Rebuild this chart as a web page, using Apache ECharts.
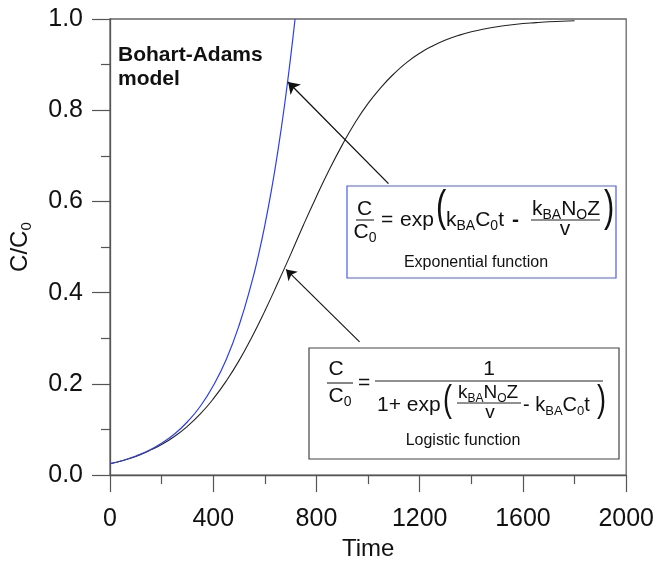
<!DOCTYPE html>
<html lang="en">
<head>
    <meta charset="UTF-8">
    <title>Bohart-Adams model</title>
    <script type="text/javascript" src="https://cdn.jsdelivr.net/npm/echarts/dist/echarts.min.js"></script>
    <style>
        html, body {
            margin: 0;
            padding: 0;
            background-color: #fff;
        }
        #chart {
            width: 657px;
            height: 566px;
        }
    </style>
</head>
<body>
<div id="chart"></div>
<script>
    // values
    var timeExp = [0, 50, 100, 150, 200, 250, 300, 350, 400, 450, 500, 550, 575, 600, 625, 650, 675, 700, 717];
    var ratioExp = [0.025, 0.032, 0.042, 0.054, 0.070, 0.090, 0.117, 0.151, 0.196, 0.253, 0.328, 0.424, 0.482, 0.548, 0.623, 0.709, 0.806, 0.917, 1.0];

    var timeLog = [0, 50, 100, 150, 200, 250, 300, 350, 400, 450, 500, 550, 600, 650, 700, 750, 800, 850, 900,
        950, 1000, 1050, 1100, 1150, 1200, 1250, 1300, 1350, 1400, 1450, 1500, 1550, 1600, 1650, 1700, 1750, 1800];
    var ratioLog = [0.025, 0.032, 0.041, 0.053, 0.067, 0.085, 0.107, 0.134, 0.167, 0.206, 0.251, 0.303, 0.360, 0.421, 0.484, 0.549, 0.611, 0.670, 0.724,
        0.773, 0.815, 0.850, 0.880, 0.905, 0.925, 0.941, 0.954, 0.964, 0.972, 0.978, 0.983, 0.987, 0.990, 0.992, 0.994, 0.995, 0.996];

    var xTicks = [0, 400, 800, 1200, 1600, 2000];
    var yTicks = [0.0, 0.2, 0.4, 0.6, 0.8, 1.0];

    var FONT = '"Liberation Sans", Arial, sans-serif';

    function pairs(xs, ys) {
        var out = [];
        for (var i = 0; i < xs.length; i++) {
            out.push([xs[i], ys[i]]);
        }
        return out;
    }

    // rich text styles for formulas (main text + subscript)
    function richStyle(size, sub) {
        return {
            n: {fontSize: size, fontFamily: FONT, fill: '#111', lineHeight: size + 5},
            s: {fontSize: sub, fontFamily: FONT, fill: '#111', lineHeight: sub, verticalAlign: 'bottom'}
        };
    }

    function txt(x, y, text, size, opt) {
        opt = opt || {};
        return {
            type: 'text',
            x: x,
            y: y,
            z: 100,
            scaleX: opt.scaleX || 1,
            style: {
                text: text,
                fontSize: size,
                fontFamily: FONT,
                fontWeight: opt.bold ? 'bold' : 'normal',
                fill: '#111',
                align: opt.align || 'left',
                verticalAlign: opt.valign || 'middle',
                lineHeight: opt.lineHeight,
                rich: opt.rich
            }
        };
    }

    function bar(x1, x2, y) {
        return {
            type: 'line',
            z: 100,
            shape: {x1: x1, y1: y, x2: x2, y2: y},
            style: {stroke: '#222', lineWidth: 1.1}
        };
    }

    function box(x, y, w, h, color) {
        return {
            type: 'rect',
            z: 99,
            shape: {x: x, y: y, width: w, height: h},
            style: {fill: '#fff', stroke: color, lineWidth: 1.2}
        };
    }

    var rich21 = richStyle(21, 14);
    var rich19 = richStyle(19, 12);

    var graphics = [
        txt(118, 43, 'Bohart-Adams\nmodel', 21, {bold: true, valign: 'top', lineHeight: 24}),

        // exponential function box
        box(347, 186, 269, 92, '#4a5cf0'),
        txt(364.5, 209.5, 'C', 21, {align: 'center'}),
        bar(356, 374, 220),
        txt(365, 232, '{n|C}{s|0}', 21, {align: 'center', rich: rich21}),
        txt(381, 220, '=', 21),
        txt(400, 220, 'exp', 21),
        txt(436, 209, '(', 44, {scaleX: 0.7}),
        txt(446, 220, '{n|k}{s|BA}{n|C}{s|0}{n|t}', 21, {rich: rich21}),
        txt(512, 220, '-', 21, {bold: true}),
        txt(532, 209, '{n|k}{s|BA}{n|N}{s|O}{n|Z}', 21, {rich: rich21}),
        bar(531, 600, 220),
        txt(565, 229, 'v', 21, {align: 'center'}),
        txt(604, 209, ')', 44, {scaleX: 0.7}),
        txt(476, 263, 'Exponential function', 16, {align: 'center'}),

        // logistic function box
        box(309, 348, 310, 111, '#444'),
        txt(336, 369, 'C', 21, {align: 'center'}),
        bar(327, 353, 383),
        txt(340, 396, '{n|C}{s|0}', 21, {align: 'center', rich: rich21}),
        txt(358, 383, '=', 21),
        txt(489, 369, '1', 21, {align: 'center'}),
        bar(375, 603, 381),
        txt(377, 405, '1+ exp', 21),
        txt(443, 401, '(', 36, {scaleX: 0.75}),
        txt(458, 393, '{n|k}{s|BA}{n|N}{s|O}{n|Z}', 19, {rich: rich19}),
        bar(457, 521, 403),
        txt(490, 413, 'v', 19, {align: 'center'}),
        txt(523, 405, '{n|- k}{s|BA}{n|C}{s|0}{n|t}', 20, {rich: richStyle(20, 13)}),
        txt(597, 401, ')', 36, {scaleX: 0.75}),
        txt(463, 441, 'Logistic function', 16, {align: 'center'})
    ];

    var myChart = echarts.init(document.getElementById('chart'), null, {renderer: 'canvas'});

    var option = {
        animation: false,
        backgroundColor: '#fff',
        grid: {
            left: 108,
            right: 30,
            top: 19,
            bottom: 84,
            show: true,
            borderColor: '#666',
            borderWidth: 1.3
        },
        xAxis: {
            type: 'value',
            min: xTicks[0],
            max: xTicks[xTicks.length - 1],
            interval: xTicks[1] - xTicks[0],
            name: 'Time',
            nameLocation: 'middle',
            nameGap: 57,
            nameTextStyle: {fontSize: 24, fontFamily: FONT, color: '#111'},
            axisLine: {onZero: false, lineStyle: {color: '#555', width: 1.3}},
            axisTick: {inside: false, length: 17, lineStyle: {color: '#555', width: 1.2}},
            minorTick: {show: true, splitNumber: 2, length: 9, lineStyle: {color: '#555', width: 1.2}},
            axisLabel: {
                margin: 32, fontSize: 25, fontFamily: FONT, color: '#111',
                formatter: function (v) { return String(v); }
            },
            splitLine: {show: false}
        },
        yAxis: {
            type: 'value',
            min: yTicks[0],
            max: yTicks[yTicks.length - 1],
            interval: 0.2,
            name: '{a|C/C}{b|0}',
            nameLocation: 'middle',
            nameGap: 76,
            nameTextStyle: {
                fontSize: 24, fontFamily: FONT, color: '#111',
                rich: {
                    a: {fontSize: 24, fontFamily: FONT, color: '#111', lineHeight: 28},
                    b: {fontSize: 15, fontFamily: FONT, color: '#111', lineHeight: 15, verticalAlign: 'bottom'}
                }
            },
            axisLine: {onZero: false, lineStyle: {color: '#555', width: 1.3}},
            axisTick: {inside: false, length: 18, lineStyle: {color: '#555', width: 1.2}},
            minorTick: {show: true, splitNumber: 2, length: 9, lineStyle: {color: '#555', width: 1.2}},
            axisLabel: {
                margin: 27, fontSize: 25, fontFamily: FONT, color: '#111',
                formatter: function (v) { return v.toFixed(1); }
            },
            splitLine: {show: false}
        },
        series: [
            {
                name: 'Logistic function',
                type: 'line',
                data: pairs(timeLog, ratioLog),
                showSymbol: false,
                smooth: true,
                lineStyle: {color: '#222', width: 1.1},
                z: 3,
                markLine: {
                    silent: true,
                    symbol: ['none', 'arrow'],
                    symbolSize: 10,
                    label: {show: false},
                    lineStyle: {color: '#111', width: 1.1, type: 'solid'},
                    data: [
                        [{coord: [967, 0.292]}, {coord: [682, 0.451]}]
                    ]
                }
            },
            {
                name: 'Exponential function',
                type: 'line',
                data: pairs(timeExp, ratioExp),
                showSymbol: false,
                smooth: true,
                lineStyle: {color: '#2a3df2', width: 1.2},
                z: 4,
                markLine: {
                    silent: true,
                    symbol: ['none', 'arrow'],
                    symbolSize: 11,
                    label: {show: false},
                    lineStyle: {color: '#111', width: 1.3, type: 'solid'},
                    data: [
                        [{coord: [1079, 0.639]}, {coord: [690, 0.862]}]
                    ]
                }
            }
        ],
        graphic: graphics
    };

    myChart.setOption(option);
</script>
</body>
</html>
